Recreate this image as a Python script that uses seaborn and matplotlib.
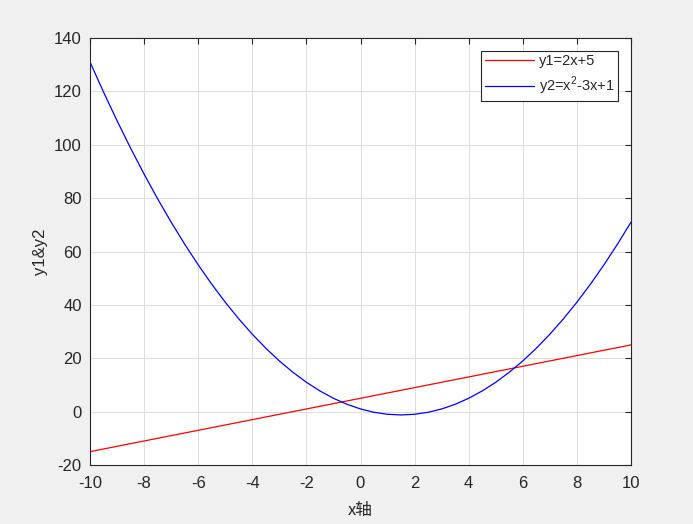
import numpy as np
import pandas as pd
import seaborn as sns
import matplotlib
matplotlib.use("Agg")
import matplotlib.pyplot as plt

x_vals = [-10, -9.5, -9, -8.5, -8, -7.5, -7, -6.5, -6, -5.5, -5, -4.5, -4, -3.5, -3, -2.5, -2, -1.5, -1, -0.5,
          0, 0.5, 1, 1.5, 2, 2.5, 3, 3.5, 4, 4.5, 5, 5.5, 6, 6.5, 7, 7.5, 8, 8.5, 9, 9.5, 10]
y1_vals = [-15, -14, -13, -12, -11, -10, -9, -8, -7, -6, -5, -4, -3, -2, -1, 0, 1, 2, 3, 4,
           5, 6, 7, 8, 9, 10, 11, 12, 13, 14, 15, 16, 17, 18, 19, 20, 21, 22, 23, 24, 25]
y2_vals = [131, 119.75, 109, 98.75, 89, 79.75, 71, 62.75, 55, 47.75, 41, 34.75, 29, 23.75, 19, 14.75, 11, 7.75, 5, 2.75,
           1, -0.25, -1, -1.25, -1, -0.25, 1, 2.75, 5, 7.75, 11, 14.75, 19, 23.75, 29, 34.75, 41, 47.75, 55, 62.75, 71]
labels = ["y1=2x+5", "y2=x$^2$-3x+1"]
x_ticks = [-10, -8, -6, -4, -2, 0, 2, 4, 6, 8, 10]
y_ticks = [-20, 0, 20, 40, 60, 80, 100, 120, 140]

sns.set_style("white")
plt.rcParams['font.family'] = ['Liberation Sans', 'Noto Sans CJK SC', 'DejaVu Sans']
plt.rcParams['mathtext.fontset'] = 'custom'
plt.rcParams['mathtext.rm'] = 'Liberation Sans'
plt.rcParams['axes.unicode_minus'] = False

df = pd.DataFrame({"x": x_vals, "y1": y1_vals, "y2": y2_vals})

fig = plt.figure(figsize=(6.93, 5.24), dpi=100, facecolor="#f0f0f0")
ax = fig.add_axes([90/693, 59/524, 541/693, 427/524])
ax.set_facecolor("white")

sns.lineplot(data=df, x="x", y="y1", ax=ax, color="#ff0000", lw=0.9, label=labels[0])
sns.lineplot(data=df, x="x", y="y2", ax=ax, color="#0000ff", lw=0.9, label=labels[1])

ax.set_xlim(-10, 10)
ax.set_ylim(-20, 140)
ax.set_xticks(x_ticks)
ax.set_yticks(y_ticks)
ax.grid(True, color="#dcdcdc", lw=0.7)
ax.set_axisbelow(True)
for s in ax.spines.values():
    s.set_color("#262626")
    s.set_linewidth(0.8)
ax.tick_params(axis="both", direction="in", length=4, width=0.8, colors="#262626", labelsize=12,
               top=True, right=True)
ax.tick_params(axis="x", pad=8)
ax.tick_params(axis="y", pad=6)
ax.set_xlabel("x轴", fontsize=12, color="#262626", family=['Noto Sans CJK SC', 'DejaVu Sans'], labelpad=8)
ax.set_ylabel("y1&y2", fontsize=12, color="#262626", labelpad=4)

leg = ax.legend(loc="upper right", fancybox=False, framealpha=1, edgecolor="#262626",
                fontsize=10.5, handlelength=3.4, handletextpad=0.3, borderaxespad=0.9,
                borderpad=0.23, labelspacing=0.45)
leg.get_frame().set_linewidth(0.8)

fig.savefig("out.png", dpi=100, facecolor=fig.get_facecolor())
